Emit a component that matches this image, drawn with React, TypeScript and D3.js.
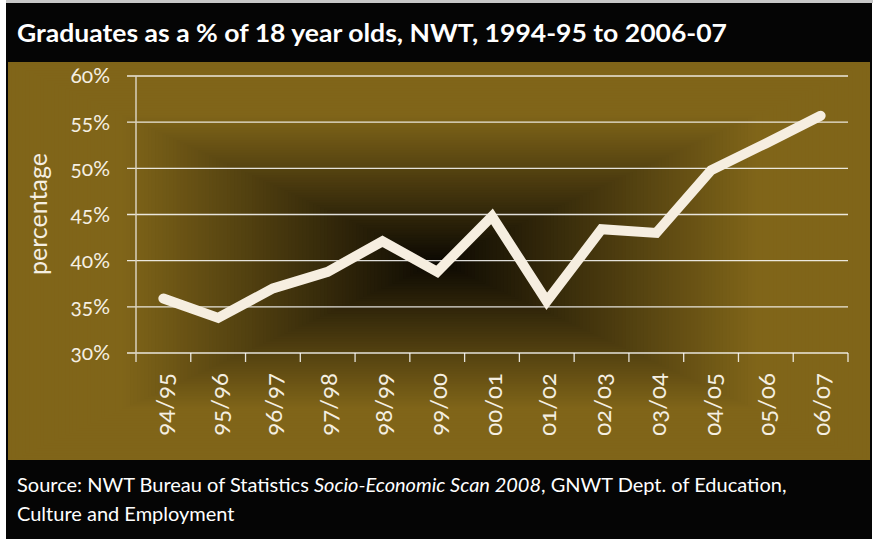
import React from "react";
import * as d3 from "d3";

const categories = ["94/95", "95/96", "96/97", "97/98", "98/99", "99/00", "00/01", "01/02", "02/03", "03/04", "04/05", "05/06", "06/07"];
const values = [35.9, 33.8, 37.0, 38.8, 42.1, 38.8, 44.8, 35.6, 43.4, 43.0, 49.8, 52.7, 55.7];
const yTicks = [30, 35, 40, 45, 50, 55, 60];
const titleText = "Graduates as a % of 18 year olds, NWT, 1994-95 to 2006-07";
const yAxisTitle = "percentage";

const W = 873;
const H = 539;

export default function App() {
  const panel = { x: 8, y: 60, w: 862, h: 400 };
  const plot = { left: 136, right: 848, top: 76, bottom: 353 };

  const x = d3.scaleBand<string>().domain(categories).range([plot.left, plot.right]).padding(0);
  const y = d3.scaleLinear().domain([30, 60]).range([plot.bottom, plot.top]);

  const line = d3
    .line<number>()
    .x((_, i) => (x(categories[i]) as number) + x.bandwidth() / 2)
    .y((d) => y(d));

  // rectangular ("from centre") background gradient
  const gold = "#806519";
  const dark = "#0b0802";
  const interp = d3.interpolateRgb(gold, dark);
  const N = 120;
  const cx = panel.x + panel.w / 2;
  const cy = panel.y + panel.h / 2 + 2;
  const stop = 0.74;
  const rects = d3.range(N, 0, -1).map((i) => {
    const r = i / N;
    const t = Math.max(0, Math.min(1, (stop - r) / stop));
    return {
      x: cx - (r * panel.w) / 2,
      y: cy - (r * panel.h) / 2,
      w: r * panel.w,
      h: r * panel.h,
      fill: interp(t),
    };
  });

  const font = "Lato, 'Open Sans', sans-serif";
  const numStyle = { fontVariantNumeric: "oldstyle-nums", fontFeatureSettings: "'onum' 1" } as React.CSSProperties;

  return (
    <svg
      width={W}
      height={H}
      style={{ position: "absolute", left: 0, top: 0, background: "#fff" }}
    >
      <circle cx={32} cy={-6} r={9} fill="#c4232b" />
      <rect x={6} y={0} width={867} height={3} fill="#c8c8c8" />
      <rect x={6} y={3} width={866} height={536} fill="#050505" />
      <text
        x={17}
        y={42}
        fill="#ffffff"
        fontFamily={font}
        fontWeight={700}
        fontSize={25}
        textLength={710}
        lengthAdjust="spacingAndGlyphs"
      >
        {titleText}
      </text>

      <clipPath id="panelClip">
        <rect x={panel.x} y={panel.y} width={panel.w} height={panel.h} />
      </clipPath>
      <g clipPath="url(#panelClip)">
        {rects.map((r, i) => (
          <rect key={i} x={r.x} y={r.y} width={r.w} height={r.h} fill={r.fill} />
        ))}
      </g>

      {/* gridlines */}
      {yTicks.map((t) => (
        <line
          key={t}
          x1={plot.left - 9}
          x2={plot.right}
          y1={y(t)}
          y2={y(t)}
          stroke="#ffffff"
          strokeOpacity={0.85}
          strokeWidth={1.3}
        />
      ))}
      {/* y axis */}
      <line x1={plot.left} x2={plot.left} y1={plot.top} y2={plot.bottom + 9} stroke="#d8d0bc" strokeWidth={1.5} />
      {/* x ticks */}
      {categories.map((c) => (
        <line
          key={c}
          x1={(x(c) as number) + x.bandwidth()}
          x2={(x(c) as number) + x.bandwidth()}
          y1={plot.bottom}
          y2={plot.bottom + 9}
          stroke="#ffffff"
          strokeOpacity={0.85}
          strokeWidth={1.3}
        />
      ))}

      {/* y labels */}
      {yTicks.map((t) => (
        <text
          key={t}
          x={110}
          y={y(t)}
          dy="0.35em"
          textAnchor="end"
          fill="#f5efe2"
          fontFamily={font}
          fontSize={21}
          style={numStyle}
        >
          {t}%
        </text>
      ))}
      <text
        transform={`translate(37,214) rotate(-90)`}
        textAnchor="middle"
        dominantBaseline="central"
        fill="#f5efe2"
        fontFamily={font}
        fontSize={25}
      >
        {yAxisTitle}
      </text>

      {/* x labels */}
      {categories.map((c) => (
        <text
          key={c}
          transform={`translate(${(x(c) as number) + x.bandwidth() / 2},373) rotate(-90)`}
          textAnchor="end"
          dominantBaseline="central"
          fill="#f5efe2"
          fontFamily={font}
          fontSize={24}
          style={numStyle}
        >
          {c}
        </text>
      ))}

      {/* data line */}
      <path
        d={line(values) as string}
        fill="none"
        stroke="#f6eee0"
        strokeWidth={10}
        strokeLinecap="round"
        strokeLinejoin="miter"
      />

      {/* source */}
      <text x={17} y={492} fill="#ffffff" fontFamily={font} fontSize={20}>
        Source: NWT Bureau of Statistics <tspan fontStyle="italic">Socio-Economic Scan 2008</tspan>, GNWT Dept. of Education,
      </text>
      <text x={17} y={521} fill="#ffffff" fontFamily={font} fontSize={20}>
        Culture and Employment
      </text>
    </svg>
  );
}
